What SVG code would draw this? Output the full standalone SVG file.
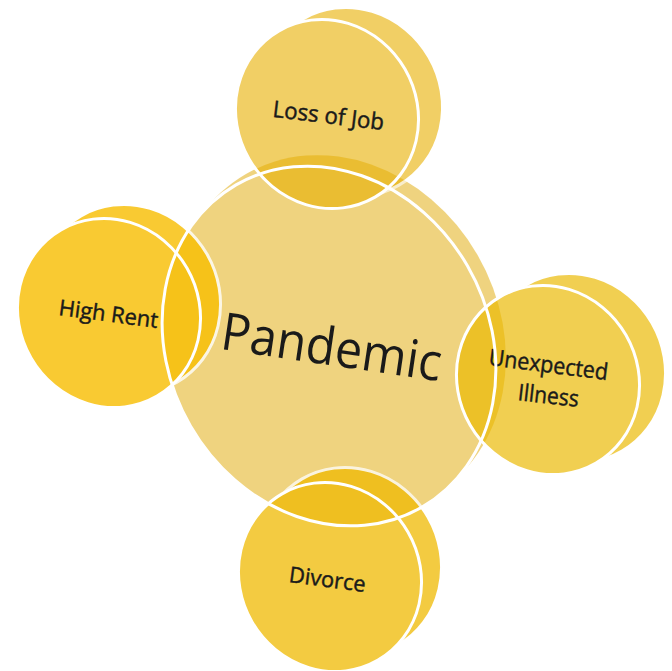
<svg xmlns="http://www.w3.org/2000/svg" width="672" height="671" viewBox="0 0 672 671">
<style>
.ol{fill:none;stroke:#fff;stroke-width:3}
.faint{fill:none;stroke:#fff;stroke-width:3;opacity:0.3}
.lbl{font-family:"Open Sans","Liberation Sans",sans-serif;fill:#1a1a1a;text-anchor:middle}
.sm{font-size:23px}
.bd{stroke:#1a1a1a;stroke-width:0.45}
</style>
<defs>
<ellipse id="sat" cx="0" cy="0" rx="90" ry="96" transform="rotate(-30)"/>
<ellipse id="big" cx="0" cy="0" rx="160" ry="186" transform="rotate(-30)"/>
<clipPath id="inCenter">
  <ellipse cx="0" cy="0" rx="160" ry="186" transform="translate(334 340) rotate(-30)"/>
</clipPath>
</defs>
<rect width="672" height="671" fill="#fff"/>

<g id="pandemic">
  <g opacity="0.5" fill="#E1A901">
    <use href="#big" x="339" y="335"/>
    <use href="#big" x="329" y="346"/>
  </g>
</g>

<g id="loss-of-job">
  <g opacity="0.6" fill="#E8B000">
    <use href="#sat" x="351" y="102"/>
    <use href="#sat" x="351" y="102" class="ol"/>
    <use href="#sat" x="327" y="114"/>
  </g>
  <use href="#sat" x="351" y="102" class="faint" clip-path="url(#inCenter)"/>
  <use href="#sat" x="327" y="114" class="ol"/>
  <text class="lbl sm bd" x="327.5" y="123.5" textLength="112" lengthAdjust="spacingAndGlyphs" transform="rotate(6.8 327.5 123.5)">Loss of Job</text>
</g>

<g id="high-rent">
  <g opacity="0.8" fill="#F8BE00">
    <use href="#sat" x="129" y="299"/>
    <use href="#sat" x="129" y="299" class="ol"/>
    <use href="#sat" x="109" y="313"/>
  </g>
  <use href="#sat" x="109" y="313" class="ol"/>
  <text class="lbl bd" font-size="22" x="107.5" y="321.5" textLength="100" lengthAdjust="spacingAndGlyphs" transform="rotate(7.5 107.5 321.5)">High Rent</text>
</g>

<g id="unexpected-illness">
  <g opacity="0.68" fill="#EBB900">
    <use href="#sat" x="574" y="368"/>
    <use href="#sat" x="574" y="368" class="ol"/>
    <use href="#sat" x="548" y="380"/>
  </g>
  <use href="#sat" x="574" y="368" class="faint" clip-path="url(#inCenter)"/>
  <use href="#sat" x="548" y="380" class="ol"/>
  <text class="lbl sm bd" x="547.5" y="372.5" textLength="120" lengthAdjust="spacingAndGlyphs" transform="rotate(7.2 547.5 372.5)">Unexpected</text>
  <text class="lbl sm bd" x="547.5" y="403.5" textLength="61" lengthAdjust="spacingAndGlyphs" transform="rotate(6.5 547.5 403.5)">Illness</text>
</g>

<g id="divorce">
  <g opacity="0.74" fill="#F0B900">
    <use href="#sat" x="350" y="562"/>
    <use href="#sat" x="350" y="562" class="ol"/>
    <use href="#sat" x="330" y="577"/>
  </g>
  <use href="#sat" x="330" y="577" class="ol"/>
  <text class="lbl bd" font-size="22" x="326.5" y="587" textLength="77" lengthAdjust="spacingAndGlyphs" transform="rotate(7.4 326.5 587)">Divorce</text>
</g>

<g id="pandemic-front">
  <use href="#big" x="329" y="346" class="ol"/>
  <text class="lbl" font-size="52" x="329" y="365" textLength="222" lengthAdjust="spacingAndGlyphs" transform="rotate(8.4 329 365)">Pandemic</text>
</g>
</svg>
